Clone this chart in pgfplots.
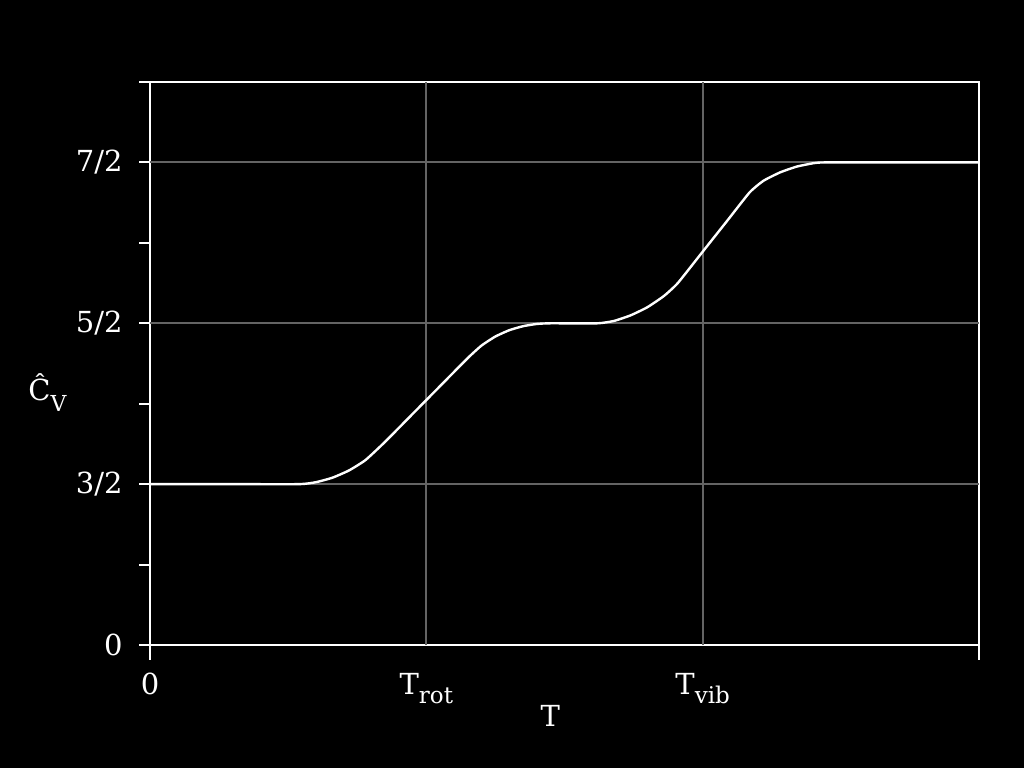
\documentclass[border=0pt]{standalone}
\usepackage{fontspec}
\setmainfont{DejaVu Serif}
\usepackage{pgfplots}
\pgfplotsset{compat=1.18}
\definecolor{gridgray}{RGB}{100,100,100}
\newcommand{\mainsize}{\fontsize{14.5}{17}\selectfont}
\newcommand{\subsize}{\fontsize{11.5}{13}\selectfont}
\begin{document}
\begin{tikzpicture}
\fill[black] (-75pt,-61.5pt) rectangle (437pt,322.5pt);
\begin{axis}[
  at={(0pt,0pt)}, anchor=south west,
  scale only axis,
  width=414.5pt, height=281.5pt,
  xmin=0, xmax=3, ymin=0, ymax=3.5,
  axis line style={white, line width=1pt},
  major tick length=0pt,
  xtick={0}, xticklabels={0},
  extra x ticks={1,2},
  extra x tick labels={T\raisebox{-4.5pt}{\subsize rot}, T\raisebox{-4.5pt}{\subsize vib}},
  extra x tick style={grid=major},
  ytick={0,1,2,3}, yticklabels={0,3/2,5/2,7/2},
  extra y ticks={1,2,3},
  extra y tick labels={},
  extra y tick style={grid=major},
  major grid style={gridgray, line width=1pt},
  tick label style={font=\mainsize, text=white, inner sep=0pt},
  xticklabel style={anchor=north, yshift=-14pt},
  yticklabel style={anchor=east, xshift=-13.5pt},
  clip=false,
]
\addplot[white, line width=1.2pt, smooth, tension=0.3] coordinates {
(0,1) (0.30,1) (0.54,1.0) (0.60,1.012) (0.66,1.04) (0.72,1.085) (0.78,1.15)
(0.85,1.262) (0.95,1.436) (1.05,1.61) (1.15,1.784) (1.20,1.862) (1.25,1.918)
(1.30,1.957) (1.35,1.982) (1.40,1.996) (1.45,2.0) (1.62,2.0)
(1.68,2.015) (1.74,2.05) (1.80,2.10) (1.86,2.17) (1.91,2.25) (2.00,2.445)
(2.09,2.64) (2.17,2.814) (2.22,2.886) (2.28,2.938) (2.34,2.974) (2.40,2.995)
(2.44,3.0) (2.7,3.0) (3.0,3.0)
};
% outward tick marks
\draw[white, line width=1pt] (axis cs:0,0) -- ++(0,-7.5pt);
\draw[white, line width=1pt] (axis cs:3,0) -- ++(0,-7.5pt);
\draw[white, line width=1pt] (axis cs:0,0) -- ++(-5.5pt,0);
\draw[white, line width=1pt] (axis cs:0,0.5) -- ++(-5.5pt,0);
\draw[white, line width=1pt] (axis cs:0,1) -- ++(-5.5pt,0);
\draw[white, line width=1pt] (axis cs:0,1.5) -- ++(-5.5pt,0);
\draw[white, line width=1pt] (axis cs:0,2) -- ++(-5.5pt,0);
\draw[white, line width=1pt] (axis cs:0,2.5) -- ++(-5.5pt,0);
\draw[white, line width=1pt] (axis cs:0,3) -- ++(-5.5pt,0);
\draw[white, line width=1pt] (axis cs:0,3.5) -- ++(-5.5pt,0);
% axis labels
\node[anchor=north, inner sep=0pt, text=white, font=\mainsize] at (rel axis cs:0.483,0) [yshift=-30pt] {T};
\node[anchor=base west, inner sep=0pt, text=white, font=\mainsize] at (axis cs:0,0) [xshift=-61pt, yshift=122.5pt] {Ĉ\raisebox{-5.5pt}{\fontsize{11}{12}\selectfont V}};
\end{axis}
\pgfresetboundingbox
\useasboundingbox (-75pt,-61.5pt) rectangle (437pt,322.5pt);
\end{tikzpicture}
\end{document}
